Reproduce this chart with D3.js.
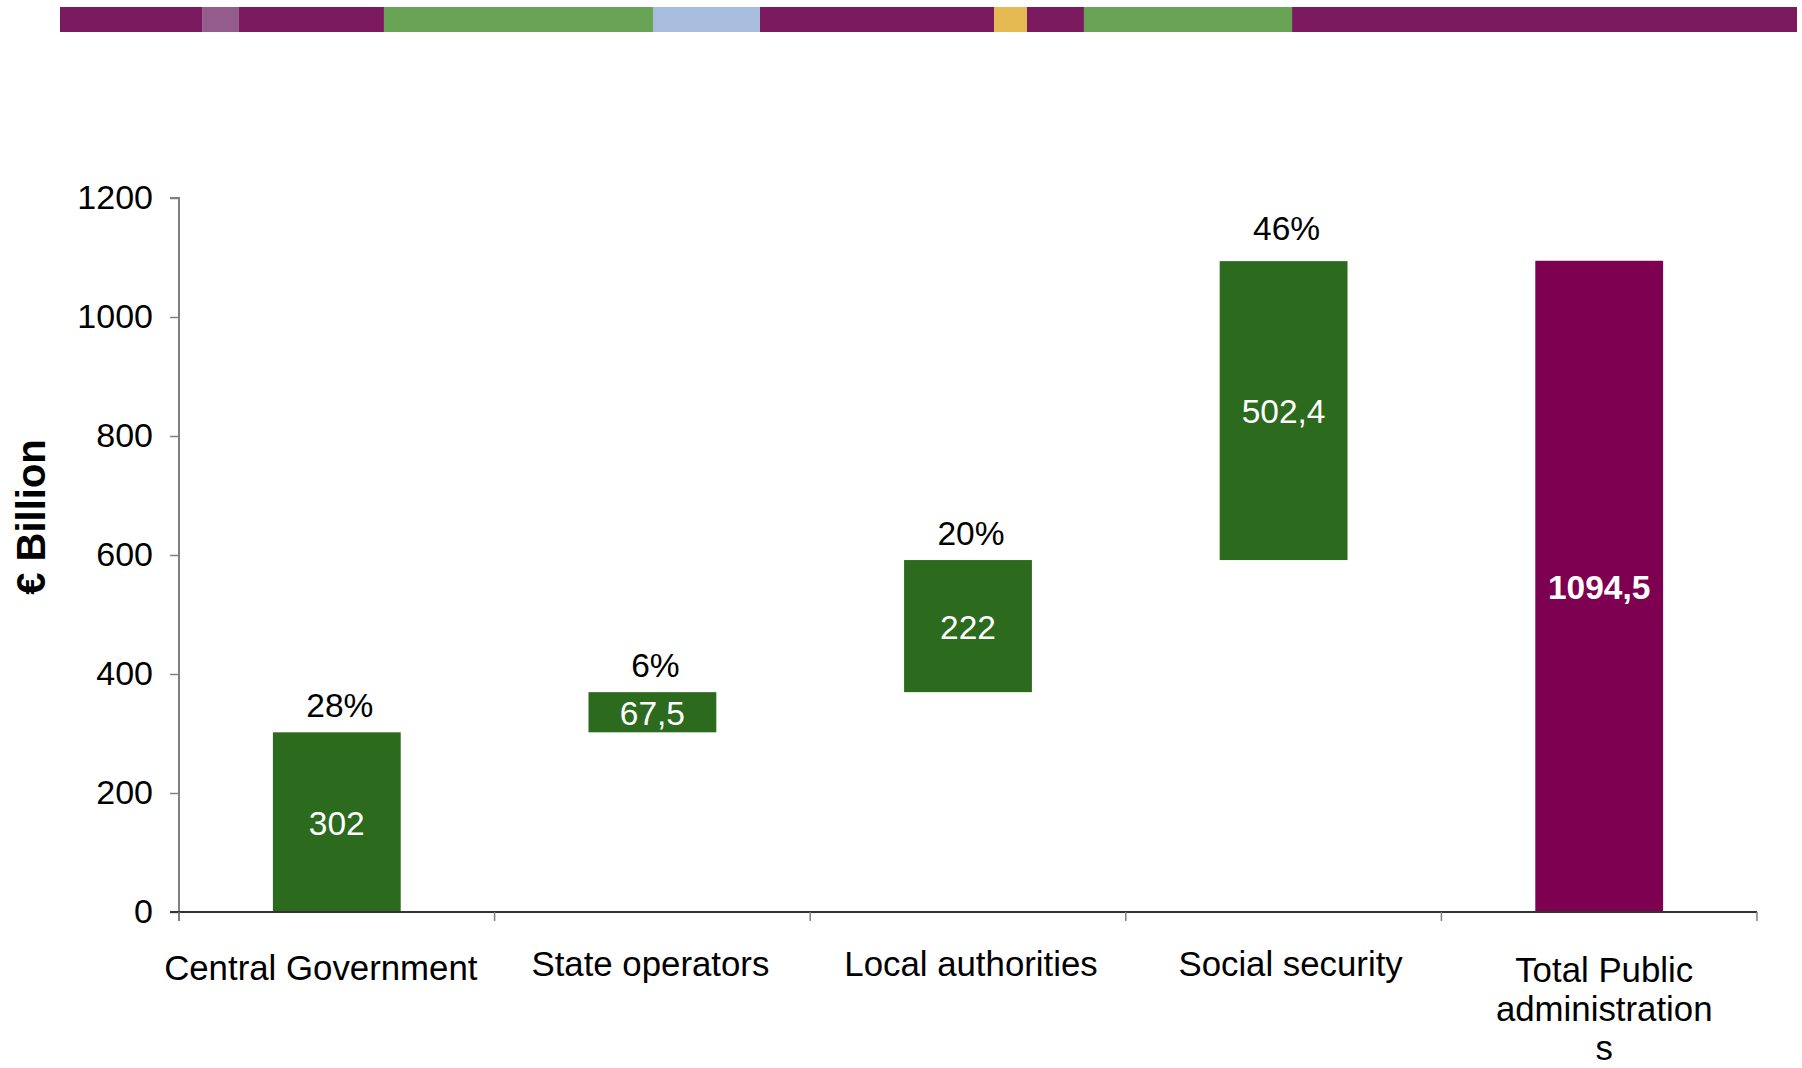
<!DOCTYPE html>
<html>
<head>
<meta charset="utf-8">
<script src="https://cdn.jsdelivr.net/npm/d3@7"></script>
<style>
  html, body { margin: 0; padding: 0; background: #fff; }
  svg { display: block; font-family: "Liberation Sans", Arial, sans-serif; }
</style>
</head>
<body>
<div id="chart"></div>
<script>
// categories and values
const categories = ["Central Government", "State operators", "Local authorities", "Social security", "Total Public administrations"];
const categoryLines = [["Central Government"], ["State operators"], ["Local authorities"], ["Social security"], ["Total Public", "administration", "s"]];
const values = [302, 67.5, 222, 502.4];
const total = 1094.5;
const valueLabels = ["302", "67,5", "222", "502,4", "1094,5"];
const shareLabels = ["28%", "6%", "20%", "46%", ""];
const yTicks = [0, 200, 400, 600, 800, 1000, 1200];

// decorative strip at the top: segment ends in percent of strip length
const stripEnds = [8.18, 10.3, 18.65, 34.14, 40.3, 53.77, 55.67, 58.95, 70.93, 100];
const stripColors = ["#7b1a5e", "#935c8c", "#7b1a5e", "#69a355", "#a8bcdd", "#7b1a5e", "#e5ba52", "#7b1a5e", "#69a355", "#7b1a5e"];

let w = 1802, h = 1068;
let padL = 179, padR = 1757, padT = 198, padB = 912;
// small nudges so category labels sit where the original put them
let labelDx = [-16, -2, 3, 7, 5];

const svg = d3.select("#chart")
  .append("svg")
  .attr("width", w)
  .attr("height", h);

// top strip
const sx = d3.scaleLinear().domain([0, 100]).range([60, 1797]);
svg.append("g").selectAll("rect")
  .data(stripEnds)
  .enter()
  .append("rect")
  .attr("x", (d, i) => sx(i ? stripEnds[i - 1] : 0))
  .attr("y", 7)
  .attr("width", (d, i) => sx(d) - sx(i ? stripEnds[i - 1] : 0))
  .attr("height", 25)
  .attr("fill", (d, i) => stripColors[i]);

const x = d3.scaleBand()
  .domain(categories)
  .range([padL, padR])
  .paddingInner(0.595)
  .paddingOuter(0.2975);

const y = d3.scaleLinear()
  .domain([0, 1200])
  .range([padB, padT]);

// waterfall pieces
let run = 0;
let bars = values.map((v, i) => {
  let b = {cat: categories[i], y0: run, y1: run + v, total: false};
  run += v;
  return b;
});
bars.push({cat: categories[4], y0: 0, y1: total, total: true});

// y axis
const yAxis = d3.axisLeft(y)
  .tickValues(yTicks)
  .tickFormat(d3.format("d"))
  .tickSize(9)
  .tickPadding(17);

let ya = svg.append("g")
  .attr("transform", "translate(" + padL + ",0)")
  .call(yAxis);
ya.select(".domain").attr("stroke", "#808080").attr("stroke-width", 2)
  .attr("d", "M-9," + padT + "H0V" + (padB + 9));
ya.selectAll(".tick line").attr("stroke", "#808080").attr("stroke-width", 1.5);
ya.selectAll(".tick text").attr("font-size", 34).attr("fill", "#000")
  .attr("font-family", "Liberation Sans, Arial, sans-serif");

// bars
svg.append("g").selectAll("rect")
  .data(bars)
  .enter()
  .append("rect")
  .attr("x", d => x(d.cat))
  .attr("y", d => y(d.y1))
  .attr("width", x.bandwidth())
  .attr("height", d => y(d.y0) - y(d.y1))
  .attr("fill", d => d.total ? "#7e0050" : "#2c6a1e");

// x axis line with ticks on band boundaries
let boundaries = d3.range(categories.length + 1).map(i => padL + i * x.step());
svg.append("line")
  .attr("x1", padL - 9).attr("x2", padR)
  .attr("y1", padB).attr("y2", padB)
  .attr("stroke", "#333").attr("stroke-width", 2);
svg.append("g").selectAll("line")
  .data(boundaries)
  .enter()
  .append("line")
  .attr("x1", d => d).attr("x2", d => d)
  .attr("y1", padB).attr("y2", padB + 9)
  .attr("stroke", "#808080").attr("stroke-width", 1.5);

// category labels
svg.append("g").selectAll("text")
  .data(categories)
  .enter()
  .append("text")
  .attr("text-anchor", "middle")
  .attr("font-size", 34.8)
  .attr("fill", "#000")
  .each(function (d, i) {
    let lines = categoryLines[i];
    let base = lines.length > 1 ? 982 : (i == 0 ? 980 : 976);
    d3.select(this).selectAll("tspan")
      .data(lines)
      .enter()
      .append("tspan")
      .attr("x", x(d) + x.bandwidth() / 2 + labelDx[i])
      .attr("y", (l, j) => base + j * 39)
      .text(l => l);
  });

// share labels above bars
svg.append("g").selectAll("text")
  .data(bars)
  .enter()
  .append("text")
  .attr("x", d => x(d.cat) + x.bandwidth() / 2 + 3)
  .attr("y", (d, i) => y(d.y1) - (i == 3 ? 21 : 15))
  .attr("text-anchor", "middle")
  .attr("font-size", 33.5)
  .attr("fill", "#000")
  .text((d, i) => shareLabels[i]);

// value labels inside bars
svg.append("g").selectAll("text")
  .data(bars)
  .enter()
  .append("text")
  .attr("x", d => x(d.cat) + x.bandwidth() / 2)
  .attr("y", d => (y(d.y0) + y(d.y1)) / 2)
  .attr("dy", "0.38em")
  .attr("text-anchor", "middle")
  .attr("font-size", 33.5)
  .attr("font-weight", d => d.total ? "bold" : "normal")
  .attr("fill", "#fff")
  .text((d, i) => valueLabels[i]);

// y title
svg.append("text")
  .attr("transform", "translate(45," + 517 + ") rotate(-90)")
  .attr("text-anchor", "middle")
  .attr("font-size", 40)
  .attr("font-weight", "bold")
  .attr("fill", "#000")
  .text("€ Billion");
</script>
</body>
</html>
